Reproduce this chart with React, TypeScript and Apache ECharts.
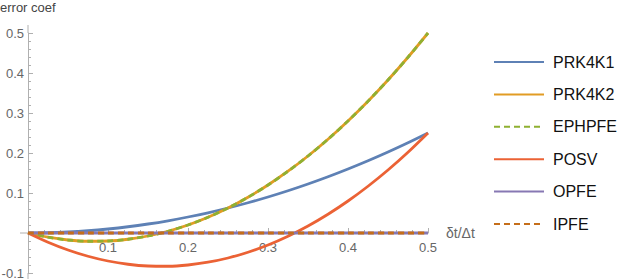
import React, { useEffect, useRef } from "react";
import * as echarts from "echarts";

const xValues = [0, 0.025, 0.05, 0.075, 0.1, 0.125, 0.15, 0.175, 0.2, 0.225, 0.25, 0.275, 0.3, 0.325, 0.35, 0.375, 0.4, 0.425, 0.45, 0.475, 0.5];
const prk4k1 = [0, 0.0006, 0.0025, 0.0056, 0.01, 0.0156, 0.0225, 0.0306, 0.04, 0.0506, 0.0625, 0.0756, 0.09, 0.1056, 0.1225, 0.1406, 0.16, 0.1806, 0.2025, 0.2256, 0.25];
const prk4k2 = [0, -0.0106, -0.0175, -0.0206, -0.02, -0.0156, -0.0075, 0.0044, 0.02, 0.0394, 0.0625, 0.0894, 0.12, 0.1544, 0.1925, 0.2344, 0.28, 0.3294, 0.3825, 0.4394, 0.5];
const ephpfe = [0, -0.0106, -0.0175, -0.0206, -0.02, -0.0156, -0.0075, 0.0044, 0.02, 0.0394, 0.0625, 0.0894, 0.12, 0.1544, 0.1925, 0.2344, 0.28, 0.3294, 0.3825, 0.4394, 0.5];
const posv = [0, -0.0231, -0.0425, -0.0581, -0.07, -0.0781, -0.0825, -0.0831, -0.08, -0.0731, -0.0625, -0.0481, -0.03, -0.0081, 0.0175, 0.0469, 0.08, 0.1169, 0.1575, 0.2019, 0.25];
const opfe = [0, 0, 0, 0, 0, 0, 0, 0, 0, 0, 0, 0, 0, 0, 0, 0, 0, 0, 0, 0, 0];
const ipfe = [0, 0, 0, 0, 0, 0, 0, 0, 0, 0, 0, 0, 0, 0, 0, 0, 0, 0, 0, 0, 0];

const seriesNames = ["PRK4K1", "PRK4K2", "EPHPFE", "POSV", "OPFE", "IPFE"];
const seriesData = [prk4k1, prk4k2, ephpfe, posv, opfe, ipfe];
const seriesColors = ["#5E81B5", "#E19C24", "#8FB032", "#EB6235", "#8778B3", "#C56E1A"];
const seriesDashed = [false, false, true, false, false, true];

const FONT = "Liberation Sans, Arial, sans-serif";
const AXIS_COLOR = "#b0b0b0";
const LABEL_COLOR = "#666";

const isTenth = (v: number) => Math.abs(v * 10 - Math.round(v * 10)) < 1e-6 && Math.abs(v) > 1e-9;

export default function App() {
  const ref = useRef<HTMLDivElement>(null);
  useEffect(() => {
    if (!ref.current) return;
    const chart = echarts.init(ref.current, null, { renderer: "svg" });
    chart.setOption({
      animation: false,
      grid: { left: 28, top: 33, width: 400, height: 240, containLabel: false, outerBoundsMode: "none" },
      xAxis: {
        type: "value",
        min: 0,
        max: 0.5,
        interval: 0.1,
        offset: -40,
        name: "δt/Δt",
        nameLocation: "end",
        nameGap: 18,
        nameTextStyle: { color: LABEL_COLOR, fontSize: 14, fontFamily: FONT, verticalAlign: "middle" },
        axisLine: { onZero: false, lineStyle: { color: AXIS_COLOR, width: 1 } },
        axisTick: { show: true, inside: true, length: 5, lineStyle: { color: AXIS_COLOR } },
        minorTick: { show: true, splitNumber: 5, length: 3, lineStyle: { color: AXIS_COLOR } },
        splitLine: { show: false },
        axisLabel: {
          color: LABEL_COLOR,
          fontSize: 13,
          fontFamily: FONT,
          margin: 8,
          formatter: (v: number) => (isTenth(v) ? String(Math.round(v * 10) / 10) : ""),
        },
      },
      yAxis: {
        type: "value",
        min: -0.1,
        max: 0.5,
        interval: 0.1,
        axisLine: { show: true, onZero: false, lineStyle: { color: AXIS_COLOR, width: 1 } },
        axisTick: { show: true, inside: true, length: 5, lineStyle: { color: AXIS_COLOR } },
        minorTick: { show: true, splitNumber: 5, length: 3, lineStyle: { color: AXIS_COLOR } },
        splitLine: { show: false },
        axisLabel: {
          color: LABEL_COLOR,
          fontSize: 13,
          fontFamily: FONT,
          margin: 4,
          formatter: (v: number) => (isTenth(v) ? String(Math.round(v * 10) / 10) : ""),
        },
      },
      legend: {
        orient: "vertical",
        left: 493,
        top: 54,
        padding: 0,
        itemWidth: 50,
        itemHeight: 14,
        itemGap: 16.4,
        itemStyle: { opacity: 0 },
        textStyle: { color: "#111", fontSize: 16, fontFamily: FONT, padding: [0, 0, 0, 4] },
        data: seriesNames,
      },
      graphic: [
        { type: "line", silent: true, shape: { x1: 28, y1: 25, x2: 28, y2: 33 }, style: { stroke: AXIS_COLOR, lineWidth: 1 } },
        { type: "line", silent: true, shape: { x1: 28, y1: 273, x2: 28, y2: 279 }, style: { stroke: AXIS_COLOR, lineWidth: 1 } },
        { type: "line", silent: true, shape: { x1: 20, y1: 233, x2: 28, y2: 233 }, style: { stroke: AXIS_COLOR, lineWidth: 1 } },
        { type: "text", left: 0, top: 1, style: { text: "error coef", fill: "#444", font: `13px ${FONT}` } },
      ],
      series: seriesNames.map((name, i) => ({
        name,
        type: "line",
        data: xValues.map((x, j) => [x, seriesData[i][j]]),
        smooth: 0.3,
        symbol: "none",
        showSymbol: false,
        clip: false,
        z: 2 + i,
        lineStyle: {
          color: seriesColors[i],
          width: 2.8,
          type: seriesDashed[i] ? [6, 4] : "solid",
        },
        itemStyle: { color: seriesColors[i] },
      })),
    });
    return () => chart.dispose();
  }, []);
  return (
    <div style={{ position: "absolute", left: 0, top: 0 }}>
      <div ref={ref} style={{ width: 622, height: 279 }} />
    </div>
  );
}
